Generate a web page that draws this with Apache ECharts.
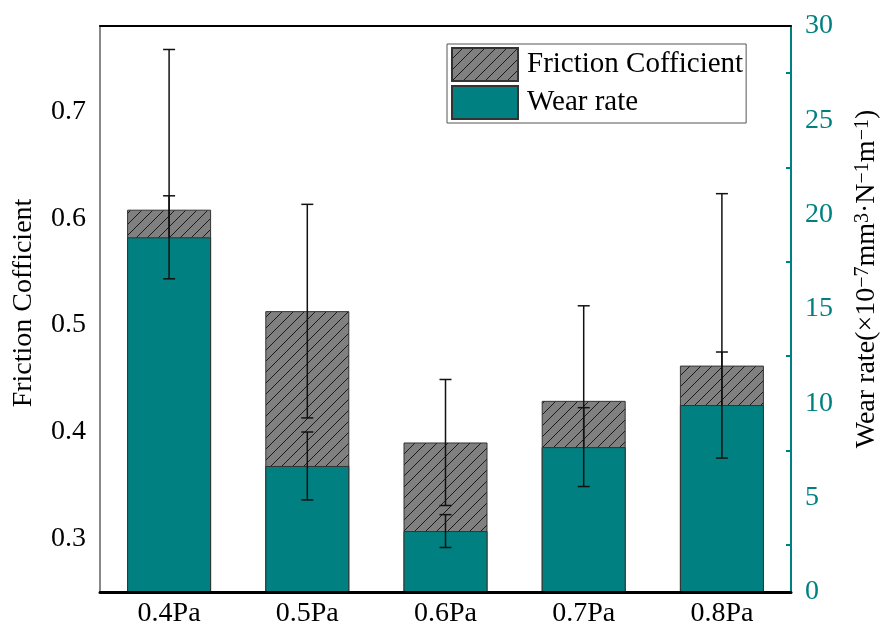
<!DOCTYPE html>
<html>
<head>
<meta charset="utf-8">
<script src="https://cdn.jsdelivr.net/npm/echarts@6/dist/echarts.min.js"></script>
<style>
  html, body { margin: 0; padding: 0; background: #fff; }
  #myChart { width: 889px; height: 633px; }
</style>
</head>
<body>
<div id="myChart"></div>
<script>
// Data
const categories = ["0.4Pa", "0.5Pa", "0.6Pa", "0.7Pa", "0.8Pa"];
const friction = [0.608, 0.513, 0.390, 0.429, 0.462];
const frictionErr = [0.150, 0.100, 0.059, 0.089, 0.161];
const wearRate = [18.8, 6.68, 3.23, 7.68, 9.91];
const wearErr = [2.2, 1.8, 0.87, 2.09, 2.81];

const FONT = "Liberation Serif, 'Times New Roman', serif";
const TEAL = "#008080";

// hatched fill for the friction bars
function hatch() {
  const s = 11;
  const c = document.createElement("canvas");
  c.width = c.height = s;
  const g = c.getContext("2d");
  g.fillStyle = "#808080";
  g.fillRect(0, 0, s, s);
  g.strokeStyle = "#1a1a1a";
  g.lineWidth = 1;
  g.beginPath();
  g.moveTo(0, s); g.lineTo(s, 0);
  g.moveTo(-2, 2); g.lineTo(2, -2);
  g.moveTo(s - 2, s + 2); g.lineTo(s + 2, s - 2);
  g.stroke();
  return c;
}

function errorData(vals, errs) {
  return vals.map((v, i) => [i, v - errs[i], v + errs[i]]);
}

function renderError(params, api) {
  const lo = api.coord([api.value(0), api.value(1)]);
  const hi = api.coord([api.value(0), api.value(2)]);
  const x = lo[0], w = 6;
  const style = { stroke: "#111", lineWidth: 1.5 };
  return {
    type: "group",
    children: [
      { type: "line", shape: { x1: x, y1: hi[1], x2: x, y2: lo[1] }, style: style },
      { type: "line", shape: { x1: x - w, y1: hi[1], x2: x + w, y2: hi[1] }, style: style },
      { type: "line", shape: { x1: x - w, y1: lo[1], x2: x + w, y2: lo[1] }, style: style }
    ]
  };
}

let myChart = echarts.init(document.getElementById("myChart"));

let option = {
  animation: false,
  textStyle: { fontFamily: FONT },
  grid: { left: 100, right: 91, top: 26, bottom: 41 },
  legend: {
    data: ["Friction Cofficient", "Wear rate"],
    orient: "vertical",
    left: 447,
    top: 44,
    icon: "rect",
    itemWidth: 66,
    itemHeight: 33,
    itemGap: 3,
    padding: [3, 3, 3, 4],
    borderColor: "#555",
    borderWidth: 1,
    textStyle: { fontSize: 29, fontFamily: FONT, color: "#000", padding: [0, 0, 0, 4] }
  },
  xAxis: [
    {
      type: "category",
      data: categories,
      position: "bottom",
      z: 10,
      axisLine: { lineStyle: { color: "#000", width: 3 } },
      axisTick: { alignWithLabel: true, inside: true, length: 9, lineStyle: { color: "#000", width: 2 } },
      axisLabel: { fontSize: 28, color: "#000", fontFamily: FONT, margin: 8 }
    },
    {
      type: "category",
      data: categories,
      position: "bottom",
      z: 10,
      axisLine: { show: false },
      axisTick: { inside: true, length: 4, lineStyle: { color: "#000", width: 2 } },
      axisLabel: { show: false }
    },
    {
      type: "category",
      data: categories,
      position: "top",
      z: 10,
      axisLine: { lineStyle: { color: "#000", width: 2 } },
      axisTick: { show: false },
      axisLabel: { show: false }
    }
  ],
  yAxis: [
    {
      type: "value",
      position: "left",
      min: 0.25,
      max: 0.78,
      splitNumber: 5,
      z: 10,
      name: "Friction Cofficient",
      nameLocation: "middle",
      nameRotate: 90,
      nameGap: 62,
      nameTextStyle: { fontSize: 28, color: "#000", fontFamily: FONT, padding: [0, 0, 0, 12] },
      axisLine: { show: true, lineStyle: { color: "#888", width: 2 } },
      axisTick: { inside: true, length: 8, lineStyle: { color: "#888", width: 2 } },
      axisLabel: {
        fontSize: 28, color: "#000", fontFamily: FONT, margin: 14,
        formatter: function (v) {
          const t = v * 10;
          return Math.abs(t - Math.round(t)) < 1e-6 && v > 0.26 && v < 0.76 ? v.toFixed(1) : "";
        }
      },
      splitLine: { show: false }
    },
    {
      type: "value",
      position: "right",
      min: 0,
      max: 30,
      interval: 5,
      z: 10,
      name: "{a|Wear rate(×10}{s|−7}{a|mm}{s|3}{a|·N}{s|−1}{a|m}{s|−1}{a|)}",
      nameLocation: "middle",
      nameRotate: 90,
      nameGap: 62,
      nameTextStyle: {
        color: "#000",
        padding: [0, 0, 0, 60],
        rich: {
          a: { fontSize: 28, fontFamily: FONT, color: "#000" },
          s: { fontSize: 20, fontFamily: FONT, color: "#000", verticalAlign: "top" }
        }
      },
      axisLine: { show: true, lineStyle: { color: TEAL, width: 2 } },
      axisTick: { inside: true, length: 8, lineStyle: { color: TEAL, width: 2 } },
      minorTick: { show: true, splitNumber: 2, length: 5, lineStyle: { color: TEAL, width: 2 } },
      axisLabel: { fontSize: 28, color: TEAL, fontFamily: FONT, margin: 14 },
      splitLine: { show: false }
    },
    {
      type: "value",
      position: "left",
      min: 0.25,
      max: 0.78,
      interval: 0.05,
      z: 10,
      axisLine: { show: false },
      axisTick: { inside: true, length: 5, lineStyle: { color: "#888", width: 2 } },
      axisLabel: { show: false },
      splitLine: { show: false }
    }
  ],
  series: [
    {
      name: "Friction Cofficient",
      type: "bar",
      xAxisIndex: 0,
      yAxisIndex: 0,
      z: 1,
      barWidth: 84,
      data: friction,
      itemStyle: { color: { image: hatch(), repeat: "repeat" }, borderColor: "#333", borderWidth: 1 }
    },
    {
      type: "custom",
      xAxisIndex: 0,
      yAxisIndex: 0,
      z: 2,
      renderItem: renderError,
      data: errorData(friction, frictionErr)
    },
    {
      name: "Wear rate",
      type: "bar",
      xAxisIndex: 0,
      yAxisIndex: 1,
      z: 3,
      barWidth: 84,
      barGap: "-100%",
      data: wearRate,
      itemStyle: { color: TEAL, borderColor: "#333", borderWidth: 1 }
    },
    {
      type: "custom",
      xAxisIndex: 0,
      yAxisIndex: 1,
      z: 4,
      renderItem: renderError,
      data: errorData(wearRate, wearErr)
    }
  ]
};

myChart.setOption(option);
</script>
</body>
</html>
